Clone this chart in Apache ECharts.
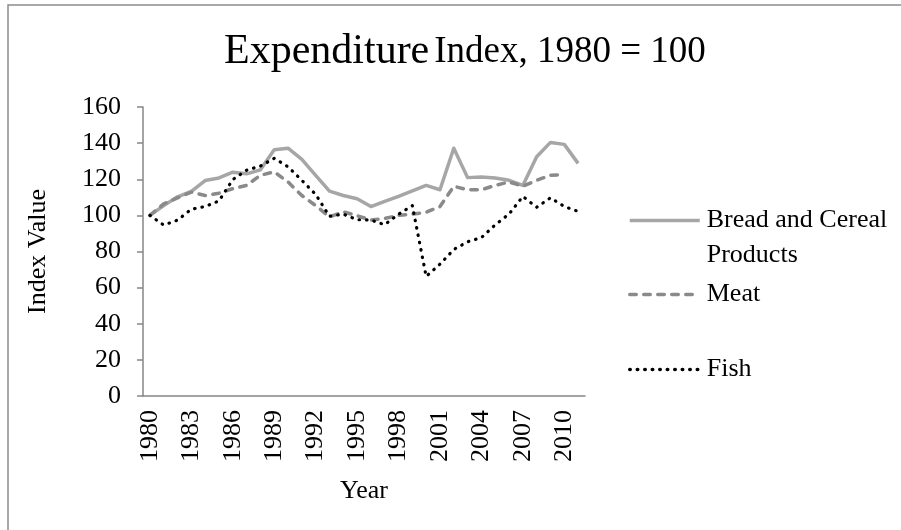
<!DOCTYPE html>
<html>
<head>
<meta charset="utf-8">
<script src="https://cdn.jsdelivr.net/npm/echarts@6/dist/echarts.min.js"></script>
<style>
  html, body { margin: 0; padding: 0; background: #fff; }
  #chart { width: 901px; height: 530px; }
</style>
</head>
<body>
<div id="chart"></div>
<script>
// years on the category axis
const years = [];
for (let y = 1980; y <= 2011; y++) years.push(String(y));

// index values (1980 = 100)
const bread = [100, 105.4, 110.3, 113.3, 119.3, 120.7, 123.9, 123.0, 125.2, 136.3, 137.2, 131.0, 122.2, 113.4, 111.0, 109.2,
  104.9, 107.7, 110.5, 113.5, 116.6, 114.2, 137.2, 120.9, 121.3, 120.7, 119.4, 116.6, 132.5, 140.4, 139.3, 128.8];
const meat = [100, 106.4, 109.7, 112.9, 111.0, 112.3, 114.8, 116.6, 122.2, 124.1, 118.5, 111.0, 105.4, 99.2, 102.0, 99.8,
  97.4, 98.3, 100.0, 100.7, 101.7, 104.9, 116.1, 114.2, 114.2, 116.6, 118.5, 116.1, 119.4, 122.2, 122.6, null];
const fish = [100, 94.6, 97.4, 103.4, 104.9, 108.0, 119.8, 125.0, 127.3, 131.6, 126.9, 119.4, 111.6, 99.5, 100.7, 97.6,
  97.4, 94.8, 100.7, 105.4, 66.2, 73.0, 81.1, 85.4, 87.7, 94.8, 100.7, 110.5, 104.5, 109.7, 104.9, 102.2];

const font = 'Liberation Serif';
const axisGrey = '#868686';

// shared legend look: line only, no symbol
const legendBase = {
    orient: 'vertical', left: 628, padding: 0,
    itemWidth: 70, itemHeight: 14,
    itemStyle: { opacity: 0 },
    lineStyle: { width: 3.5 },
    textStyle: { fontFamily: font, fontSize: 26, color: '#000', lineHeight: 35, padding: [0, 0, 0, 2] }
};

const chart = echarts.init(document.getElementById('chart'));

chart.setOption({
    animation: false,
    backgroundColor: '#fff',
    title: {
        text: '{a|Expenditure} {b|Index, 1980 = 100}',
        left: 224,
        top: 28,
        padding: 0,
        textStyle: {
            fontWeight: 'normal',
            rich: {
                a: { fontFamily: font, fontSize: 42, fontWeight: 'normal', color: '#000', lineHeight: 48 },
                b: { fontFamily: font, fontSize: 37, fontWeight: 'normal', color: '#000', lineHeight: 48 }
            }
        }
    },
    graphic: [{
        type: 'polyline',
        shape: { points: [[8, 1000], [8, 5], [1000, 5]] },
        style: { stroke: '#8c8c8c', lineWidth: 1.5, fill: null }
    }],
    legend: [
        Object.assign({}, legendBase, {
            data: ['Bread and Cereal Products'],
            top: 168,
            formatter: () => '\nBread and Cereal\nProducts'
        }),
        Object.assign({}, legendBase, { data: ['Meat'], top: 277 }),
        Object.assign({}, legendBase, { data: ['Fish'], top: 352 })
    ],
    grid: { left: 143, right: 316, top: 107, bottom: 134 },
    xAxis: {
        type: 'category',
        data: years,
        boundaryGap: true,
        name: 'Year',
        nameLocation: 'middle',
        nameGap: 82,
        nameTextStyle: { fontFamily: font, fontSize: 26, color: '#000' },
        axisLine: { lineStyle: { color: axisGrey, width: 1.5 } },
        axisTick: { interval: 0, length: 6, lineStyle: { color: axisGrey, width: 1.5 } },
        axisLabel: { interval: 2, rotate: 90, margin: 14, fontFamily: font, fontSize: 26, color: '#000' },
        splitLine: { show: false }
    },
    yAxis: {
        type: 'value',
        min: 0, max: 160, interval: 20,
        name: 'Index Value',
        nameLocation: 'middle',
        nameGap: 92,
        nameTextStyle: { fontFamily: font, fontSize: 26, color: '#000' },
        axisLine: { show: true, lineStyle: { color: axisGrey, width: 1.5 } },
        axisTick: { show: true, length: 6, lineStyle: { color: axisGrey, width: 1.5 } },
        axisLabel: { margin: 22, fontFamily: font, fontSize: 26, color: '#000' },
        splitLine: { show: false }
    },
    series: [
        {
            name: 'Bread and Cereal Products',
            type: 'line',
            data: bread,
            symbol: 'none',
            color: '#a6a6a6',
            lineStyle: { color: '#a6a6a6', width: 3.5, join: 'round' }
        },
        {
            name: 'Meat',
            type: 'line',
            data: meat,
            symbol: 'none',
            color: '#8a8a8a',
            lineStyle: { color: '#8a8a8a', width: 3.5, type: [6.5, 7.5], cap: 'round', join: 'round' }
        },
        {
            name: 'Fish',
            type: 'line',
            data: fish,
            symbol: 'none',
            color: '#000',
            lineStyle: { color: '#000', width: 3.2, type: [0.5, 7], cap: 'round', join: 'round' }
        }
    ]
});
</script>
</body>
</html>
